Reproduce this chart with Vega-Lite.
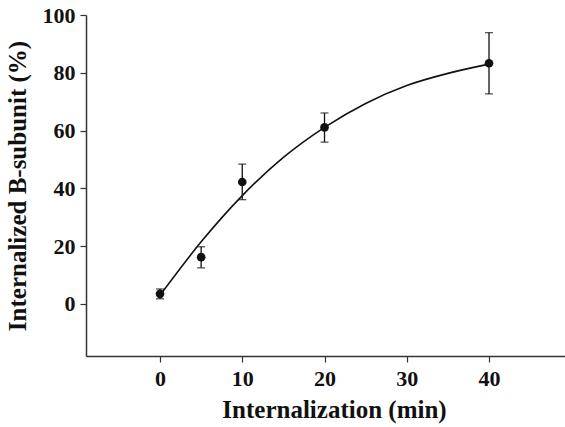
{
  "$schema": "https://vega.github.io/schema/vega-lite/v6.json",
  "width": 479,
  "height": 341,
  "autosize": {"type": "none"},
  "padding": {"left": 86, "top": 15, "right": 0, "bottom": 71},
  "background": "white",
  "config": {
    "view": {"stroke": null},
    "font": "Liberation Serif",
    "axis": {
      "grid": false,
      "domainColor": "#333",
      "domainWidth": 1.5,
      "tickColor": "#333",
      "tickWidth": 1.2,
      "tickSize": 6,
      "labelFont": "Liberation Serif",
      "labelFontWeight": "bold",
      "labelFontSize": 22,
      "labelColor": "#111",
      "titleFont": "Liberation Serif",
      "titleFontWeight": "bold",
      "titleFontSize": 25,
      "titleColor": "#111"
    }
  },
  "datasets": {
    "obs": [
      {"t": 0, "v": 3.5, "lo": 1.8, "hi": 5.2},
      {"t": 5, "v": 16.2, "lo": 12.5, "hi": 19.8},
      {"t": 10, "v": 42.2, "lo": 36.1, "hi": 48.4},
      {"t": 20, "v": 61.1, "lo": 56.0, "hi": 66.1},
      {"t": 40, "v": 83.3, "lo": 72.7, "hi": 93.9}
    ],
    "fit": [
      {"t": 0, "v": 3.0},
      {"t": 5, "v": 21.5},
      {"t": 10, "v": 37.5},
      {"t": 15, "v": 50.7},
      {"t": 20, "v": 61.1},
      {"t": 25, "v": 69.4},
      {"t": 30, "v": 75.6},
      {"t": 35, "v": 79.8},
      {"t": 40, "v": 83.0}
    ]
  },
  "layer": [
    {
      "data": {"name": "fit"},
      "mark": {"type": "line", "color": "#111", "strokeWidth": 1.6, "interpolate": "monotone"},
      "encoding": {
        "x": {
          "field": "t", "type": "quantitative",
          "scale": {"domain": [-9, 49.24], "nice": false, "zero": false},
          "axis": {"values": [0, 10, 20, 30, 40], "title": "Internalization (min)", "labelPadding": 6, "titlePadding": 8, "titleX": 248}
        },
        "y": {
          "field": "v", "type": "quantitative",
          "scale": {"domain": [-18, 100], "nice": false, "zero": false},
          "axis": {"values": [0, 20, 40, 60, 80, 100], "title": "Internalized B-subunit (%)", "labelPadding": 5, "titlePadding": 12}
        }
      }
    },
    {
      "mark": {"type": "rule", "color": "#333", "strokeWidth": 1.5},
      "encoding": {"y": {"datum": 100, "type": "quantitative"}}
    },
    {
      "data": {"name": "obs"},
      "mark": {"type": "rule", "color": "#111", "strokeWidth": 1.3},
      "encoding": {
        "x": {"field": "t", "type": "quantitative"},
        "y": {"field": "lo", "type": "quantitative"},
        "y2": {"field": "hi"}
      }
    },
    {
      "data": {"name": "obs"},
      "mark": {"type": "tick", "orient": "horizontal", "color": "#111", "size": 8, "thickness": 1.3},
      "encoding": {
        "x": {"field": "t", "type": "quantitative"},
        "y": {"field": "lo", "type": "quantitative"}
      }
    },
    {
      "data": {"name": "obs"},
      "mark": {"type": "tick", "orient": "horizontal", "color": "#111", "size": 8, "thickness": 1.3},
      "encoding": {
        "x": {"field": "t", "type": "quantitative"},
        "y": {"field": "hi", "type": "quantitative"}
      }
    },
    {
      "data": {"name": "obs"},
      "mark": {"type": "point", "filled": true, "shape": "circle", "size": 75, "color": "#111", "opacity": 1},
      "encoding": {
        "x": {"field": "t", "type": "quantitative"},
        "y": {"field": "v", "type": "quantitative"}
      }
    }
  ]
}
